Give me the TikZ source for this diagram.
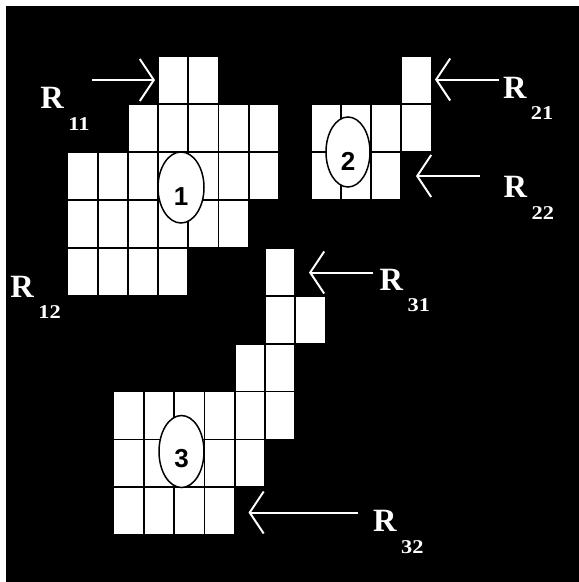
\documentclass[tikz,border=0pt]{standalone}
\usepackage{fontspec}
\setmainfont{Liberation Serif}
\newfontfamily\numfont{Liberation Sans}
\newcommand\mysubfont{\fontsize{19.5}{19.5}\selectfont}
\newcommand\mysub[2]{\raisebox{#1}{\scalebox{1.15}[1]{\mysubfont #2}}}
\usetikzlibrary{arrows.meta,shapes.geometric}
\begin{document}
\begin{tikzpicture}[x=1pt,y=-1pt,
  cell/.style={draw=black,line width=1.8pt,fill=white},
  blob/.style={ellipse,draw=black,line width=1.5pt,fill=white,inner sep=0pt,minimum width=46pt,minimum height=71pt},
  numtxt/.style={font=\numfont\bfseries\fontsize{26}{26}\selectfont,inner sep=0pt,text=black},
  lbl/.style={anchor=base west,inner sep=0pt,text=white,font=\bfseries\fontsize{32.5}{32.5}\selectfont},
  arr/.style={draw=white,line width=2pt,-{Straight Barb[length=14pt,width=42pt]}}
]
\useasboundingbox (0,0) rectangle (579,582);
\fill[black] (6,6) rectangle (579,582);
% region 1
\foreach \c/\r in {3/0,4/0,2/1,3/1,4/1,5/1,6/1,0/2,1/2,2/2,3/2,4/2,5/2,6/2,0/3,1/3,2/3,3/3,4/3,5/3,0/4,1/4,2/4,3/4}
  \draw[cell] ({67.5+30.2*\c},{56.2+47.9*\r}) rectangle ++(30.2,47.9);
% region 2
\foreach \c/\r in {3/0,0/1,1/1,2/1,3/1,0/2,1/2,2/2}
  \draw[cell] ({310.9+30.15*\c},{56.2+47.9*\r}) rectangle ++(30.15,47.9);
% region 3
\foreach \c/\r in {5/4,5/5,6/5,4/6,5/6,0/7,1/7,2/7,3/7,4/7,5/7,0/8,1/8,2/8,3/8,4/8,0/9,1/9,2/9,3/9}
  \draw[cell] ({113.5+30.3*\c},{56.2+47.9*\r}) rectangle ++(30.3,47.9);
% region markers
\node[blob] (e1) at (181,187.5) {};
\node[numtxt] (n1) at ([yshift=-9.5pt]e1.center) {1};
\node[blob,minimum width=44pt,minimum height=70pt] (e2) at (348,152) {};
\node[numtxt] (n2) at ([yshift=-9pt]e2.center) {2};
\node[blob,minimum width=45pt,minimum height=72pt] (e3) at (181.5,451.5) {};
\node[numtxt] (n3) at ([yshift=-7.5pt]e3.center) {3};
% labels
\node[lbl] (r11) at (40.2,108.3) {R\hspace{4.5pt}\mysub{-22pt}{11}};
\node[lbl] (r12) at (10.2,297) {R\hspace{4.5pt}\mysub{-21.8pt}{12}};
\node[lbl] (r21) at (502.8,98.7) {R\hspace{4.5pt}\mysub{-21pt}{21}};
\node[lbl] (r22) at (503.5,197.3) {R\hspace{4.5pt}\mysub{-22.5pt}{22}};
\node[lbl] (r31) at (379.5,290.3) {R\hspace{4.5pt}\mysub{-21.3pt}{31}};
\node[lbl] (r32) at (373,531.9) {R\hspace{4.5pt}\mysub{-21.6pt}{32}};
% arrows
\coordinate (a11s) at (92,80);    \coordinate (a11e) at (155,80);
\coordinate (a21s) at (498.5,79.5); \coordinate (a21e) at (435,79.5);
\coordinate (a22s) at (479.5,176);  \coordinate (a22e) at (416,176);
\coordinate (a31s) at (372.5,272.5); \coordinate (a31e) at (309,272.5);
\coordinate (a32s) at (357.5,512.5); \coordinate (a32e) at (248.5,512.5);
\draw[arr] (a11s) -- (a11e);
\draw[arr] (a21s) -- (a21e);
\draw[arr] (a22s) -- (a22e);
\draw[arr] (a31s) -- (a31e);
\draw[arr] (a32s) -- (a32e);
\end{tikzpicture}
\end{document}
